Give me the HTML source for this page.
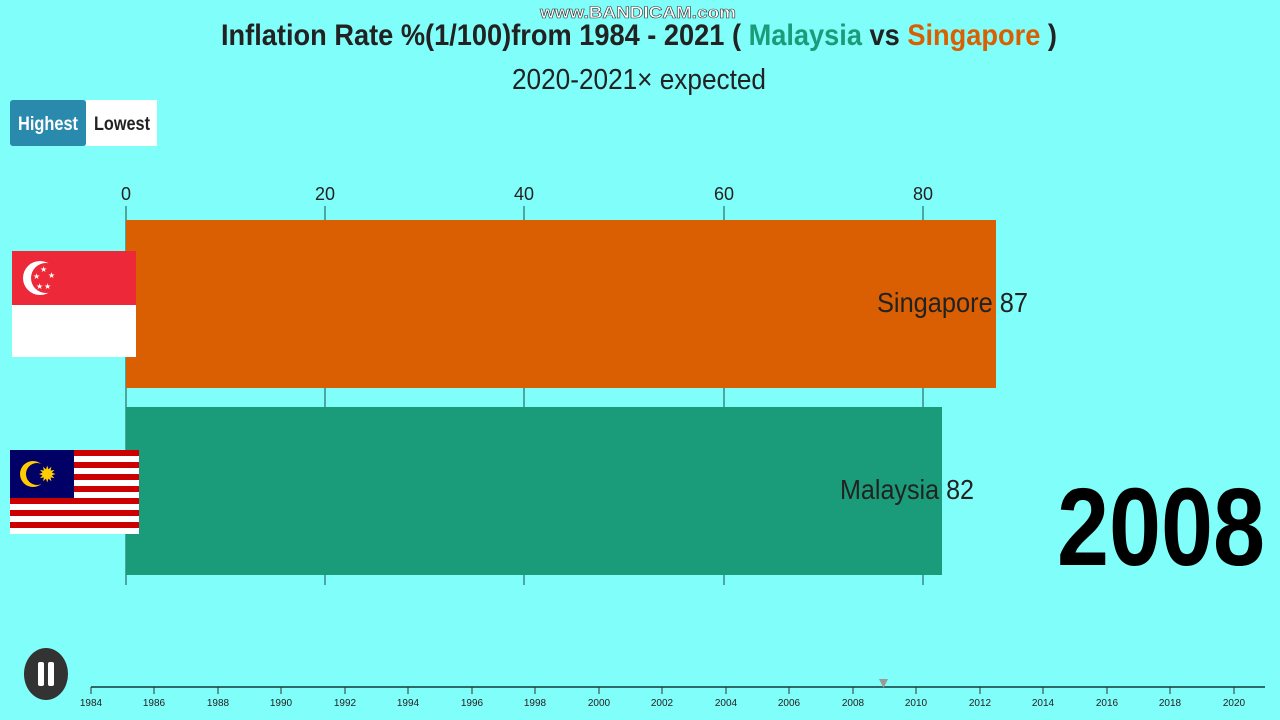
<!DOCTYPE html>
<html><head><meta charset="utf-8"><style>
html,body{margin:0;padding:0;background:#80fefa;width:1280px;height:720px;overflow:hidden}
text{font-family:"Liberation Sans Narrow","Liberation Sans",sans-serif}
</style></head><body>
<svg width="1280" height="720" viewBox="0 0 1280 720" xmlns="http://www.w3.org/2000/svg">
<rect width="1280" height="720" fill="#80fefa"/>
<text x="540" y="18" font-size="17" font-weight="bold" fill="#fff" stroke="#333" stroke-width="0.6" textLength="196" lengthAdjust="spacingAndGlyphs">www.BANDICAM.com</text>
<text x="221" y="45" font-size="30" font-weight="bold" fill="#222" textLength="836" lengthAdjust="spacingAndGlyphs">Inflation Rate %(1/100)from 1984 - 2021  ( <tspan fill="#1a9c7a">Malaysia</tspan> vs <tspan fill="#d95f02">Singapore</tspan> )</text>
<text x="512" y="89" font-size="29" fill="#222" textLength="254" lengthAdjust="spacingAndGlyphs">2020-2021× expected</text>
<rect x="10" y="100" width="76" height="46" rx="3" fill="#2a8aae"/>
<rect x="86" y="100" width="71" height="46" fill="#fff"/>
<text x="18" y="130" font-size="19" font-weight="bold" fill="#fff" textLength="60" lengthAdjust="spacingAndGlyphs">Highest</text>
<text x="94" y="130" font-size="19" font-weight="bold" fill="#222" textLength="56" lengthAdjust="spacingAndGlyphs">Lowest</text>
<g stroke="#2d6b6b" stroke-width="1.2">
<line x1="126" y1="206" x2="126" y2="585"/><line x1="325" y1="206" x2="325" y2="585"/><line x1="524" y1="206" x2="524" y2="585"/><line x1="724" y1="206" x2="724" y2="585"/><line x1="923" y1="206" x2="923" y2="585"/>
</g>
<g font-size="18" fill="#222" text-anchor="middle">
<text x="126" y="200">0</text><text x="325" y="200">20</text><text x="524" y="200">40</text><text x="724" y="200">60</text><text x="923" y="200">80</text>
</g>
<rect x="126" y="220" width="870" height="168" fill="#d95f02"/>
<rect x="126" y="407" width="816" height="168" fill="#1a9c7a"/>
<text x="1028" y="312" font-size="28" fill="#222" text-anchor="end" textLength="151" lengthAdjust="spacingAndGlyphs">Singapore 87</text>
<text x="974" y="499" font-size="28" fill="#222" text-anchor="end" textLength="134" lengthAdjust="spacingAndGlyphs">Malaysia 82</text>
<!-- Singapore flag -->
<rect x="12" y="251" width="124" height="54" fill="#ed2939"/>
<rect x="12" y="305" width="124" height="52" fill="#fff"/>
<circle cx="40" cy="278" r="17" fill="#fff"/><circle cx="46" cy="278" r="15" fill="#ed2939"/>
<g fill="#fff" font-size="8"><text x="40" y="272">★</text><text x="48" y="278">★</text><text x="44" y="289">★</text><text x="36" y="289">★</text><text x="33" y="279">★</text></g>
<!-- Malaysia flag -->
<g>
<rect x="10" y="450" width="129" height="84" fill="#fff"/>
<g fill="#cc0001">
<rect x="10" y="450" width="129" height="6"/><rect x="10" y="462" width="129" height="6"/><rect x="10" y="474" width="129" height="6"/><rect x="10" y="486" width="129" height="6"/><rect x="10" y="498" width="129" height="6"/><rect x="10" y="510" width="129" height="6"/><rect x="10" y="522" width="129" height="6"/>
</g>
<rect x="10" y="450" width="64" height="48" fill="#010066"/>
<circle cx="33" cy="474" r="13" fill="#fc0"/><circle cx="37" cy="474" r="11" fill="#010066"/>
<text x="38" y="482" font-size="22" fill="#fc0">✹</text>
</g>
<text x="1265" y="565" font-size="110" font-weight="bold" fill="#000" text-anchor="end" textLength="208" lengthAdjust="spacingAndGlyphs">2008</text>
<!-- play button -->
<ellipse cx="46" cy="674" rx="22" ry="26" fill="#333"/>
<rect x="38" y="662" width="6" height="24" rx="2" fill="#fff"/><rect x="48" y="662" width="6" height="24" rx="2" fill="#fff"/>
<!-- timeline -->
<line x1="91" y1="687" x2="1265" y2="687" stroke="#2d6b6b" stroke-width="2"/>
<polygon points="879,679 888,679 883.5,688" fill="#999"/>
<g stroke="#333" stroke-width="1" id="t"></g>
<g font-size="10" fill="#222" text-anchor="middle">
<text x="91" y="706">1984</text><text x="154" y="706">1986</text><text x="218" y="706">1988</text><text x="281" y="706">1990</text><text x="345" y="706">1992</text><text x="408" y="706">1994</text><text x="472" y="706">1996</text><text x="535" y="706">1998</text><text x="599" y="706">2000</text><text x="662" y="706">2002</text><text x="726" y="706">2004</text><text x="789" y="706">2006</text><text x="853" y="706">2008</text><text x="916" y="706">2010</text><text x="980" y="706">2012</text><text x="1043" y="706">2014</text><text x="1107" y="706">2016</text><text x="1170" y="706">2018</text><text x="1234" y="706">2020</text>
</g>
<g stroke="#333" stroke-width="1">
<line x1="91" y1="687" x2="91" y2="694"/><line x1="154" y1="687" x2="154" y2="694"/><line x1="218" y1="687" x2="218" y2="694"/><line x1="281" y1="687" x2="281" y2="694"/><line x1="345" y1="687" x2="345" y2="694"/><line x1="408" y1="687" x2="408" y2="694"/><line x1="472" y1="687" x2="472" y2="694"/><line x1="535" y1="687" x2="535" y2="694"/><line x1="599" y1="687" x2="599" y2="694"/><line x1="662" y1="687" x2="662" y2="694"/><line x1="726" y1="687" x2="726" y2="694"/><line x1="789" y1="687" x2="789" y2="694"/><line x1="853" y1="687" x2="853" y2="694"/><line x1="916" y1="687" x2="916" y2="694"/><line x1="980" y1="687" x2="980" y2="694"/><line x1="1043" y1="687" x2="1043" y2="694"/><line x1="1107" y1="687" x2="1107" y2="694"/><line x1="1170" y1="687" x2="1170" y2="694"/><line x1="1234" y1="687" x2="1234" y2="694"/>
</g>
</svg>
</body></html>
